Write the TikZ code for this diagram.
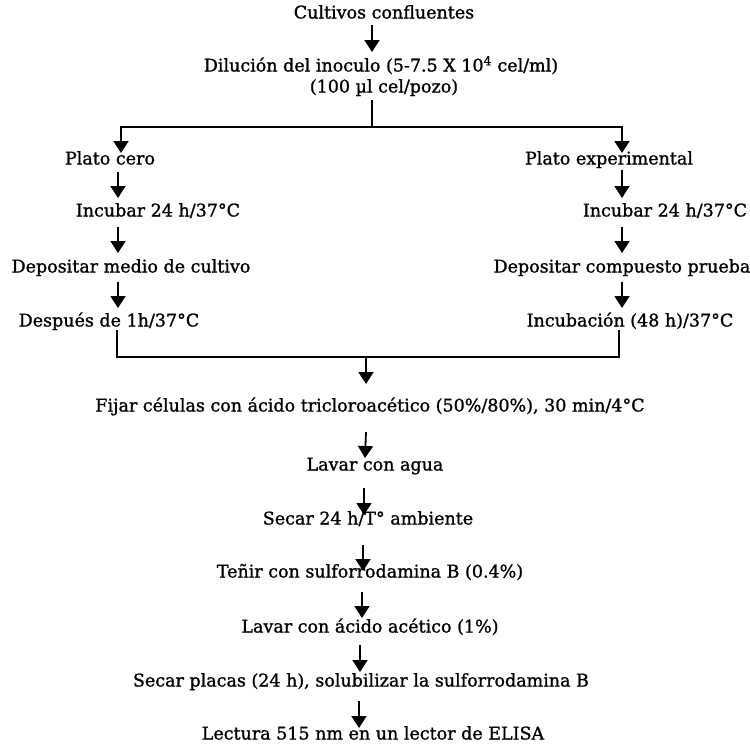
\documentclass[tikz,border=0pt]{standalone}
\usepackage{fontspec}
\setmainfont{DejaVu Serif}
\newfontfamily\flowfont[FakeBold=1.2]{DejaVu Serif}
\usetikzlibrary{arrows.meta,calc}

\begin{document}
\begin{tikzpicture}[x=1pt,y=-1pt,
  lbl/.style={inner sep=0pt, text height=12.5pt, text depth=3.5pt,
              font=\flowfont\fontsize{17.5}{20}\selectfont},
  wire/.style={line width=1.8pt},
  flow/.style={wire, -{Triangle[width=15pt,length=12pt]}}]

\useasboundingbox (0,0) rectangle (750,745);

% --- common trunk
\node[lbl] (cult) at (384,14) {Cultivos confluentes};
\node[lbl] (dil)  at (381,67) {Dilución del inoculo (5-7.5 X 10\textsuperscript{4} cel/ml)};
\node[lbl] (dose) at (384,88) {(100 µl cel/pozo)};
\coordinate (split) at (372,127);

% --- control plate branch
\node[lbl] (zeroP)  at (110,160) {Plato cero};
\node[lbl] (zinc)   at (158,212) {Incubar 24 h/37°C};
\node[lbl] (zdep)   at (131,268) {Depositar medio de cultivo};
\node[lbl] (zafter) at (109,322) {Después de 1h/37°C};

% --- experimental plate branch
\node[lbl] (expP)   at (609,160) {Plato experimental};
\node[lbl] (einc)   at (665,212) {Incubar 24 h/37°C};
\node[lbl] (edep)   at (622,268) {Depositar compuesto prueba};
\node[lbl] (eafter) at (630,322) {Incubación (48 h)/37°C};

\coordinate (merge) at (366,357);

% --- staining and reading
\node[lbl] (fix)    at (370,407) {Fijar células con ácido tricloroacético (50\%/80\%), 30 min/4°C};
\node[lbl] (wash)   at (375,466) {Lavar con agua};
\node[lbl] (dry)    at (368,520) {Secar 24 h/T° ambiente};
\node[lbl] (stain)  at (370,573) {Teñir con sulforrodamina B (0.4\%)};
\node[lbl] (acid)   at (370,628) {Lavar con ácido acético (1\%)};
\node[lbl] (plates) at (361,682) {Secar placas (24 h), solubilizar la sulforrodamina B};
\node[lbl] (read)   at (373,735) {Lectura 515 nm en un lector de ELISA};

% trunk connectors
\draw[flow] ($(cult)+(-12,11)$) -- ($(dil)+(-9,-15)$);
\draw[wire] ($(dose)+(-12,12)$) -- (split);
\draw[flow] (split) -| ($(zeroP)+(11,-7)$);
\draw[flow] (split) -| ($(expP)+(13,-7)$);

% control branch connectors
\draw[flow] ($(zeroP)+(8,12)$)  -- ($(zinc)+(-40,-14)$);
\draw[flow] ($(zinc)+(-40,15)$) -- ($(zdep)+(-13,-15)$);
\draw[flow] ($(zdep)+(-13,14)$) -- ($(zafter)+(9,-14)$);

% experimental branch connectors
\draw[flow] ($(expP)+(13,10)$)  -- ($(einc)+(-43,-14)$);
\draw[flow] ($(einc)+(-43,15)$) -- ($(edep)+(0,-15)$);
\draw[flow] ($(edep)+(0,14)$)   -- ($(eafter)+(-8,-14)$);

% joining both branches
\draw[wire] ($(zafter)+(8,8)$) |- (merge);
\draw[wire] ($(eafter)+(-11,8)$) |- (merge);
\draw[flow] (merge) -- ($(fix)+(-4,-23)$);

% lower sequence
\draw[flow] ($(fix)+(-4,25)$)     -- ($(wash)+(-10,-8)$);
\draw[flow] ($(wash)+(-11,22)$)   -- ($(dry)+(-4,-5)$);
\draw[flow] ($(dry)+(-5,25)$)     -- ($(stain)+(-7,-2)$);
\draw[flow] ($(stain)+(-8,19)$)   -- ($(acid)+(-8,-10)$);
\draw[flow] ($(acid)+(-10,17)$)   -- ($(plates)+(-1,-10)$);
\draw[flow] ($(plates)+(-2,19)$)  -- ($(read)+(-14,-7)$);

\end{tikzpicture}
\end{document}
